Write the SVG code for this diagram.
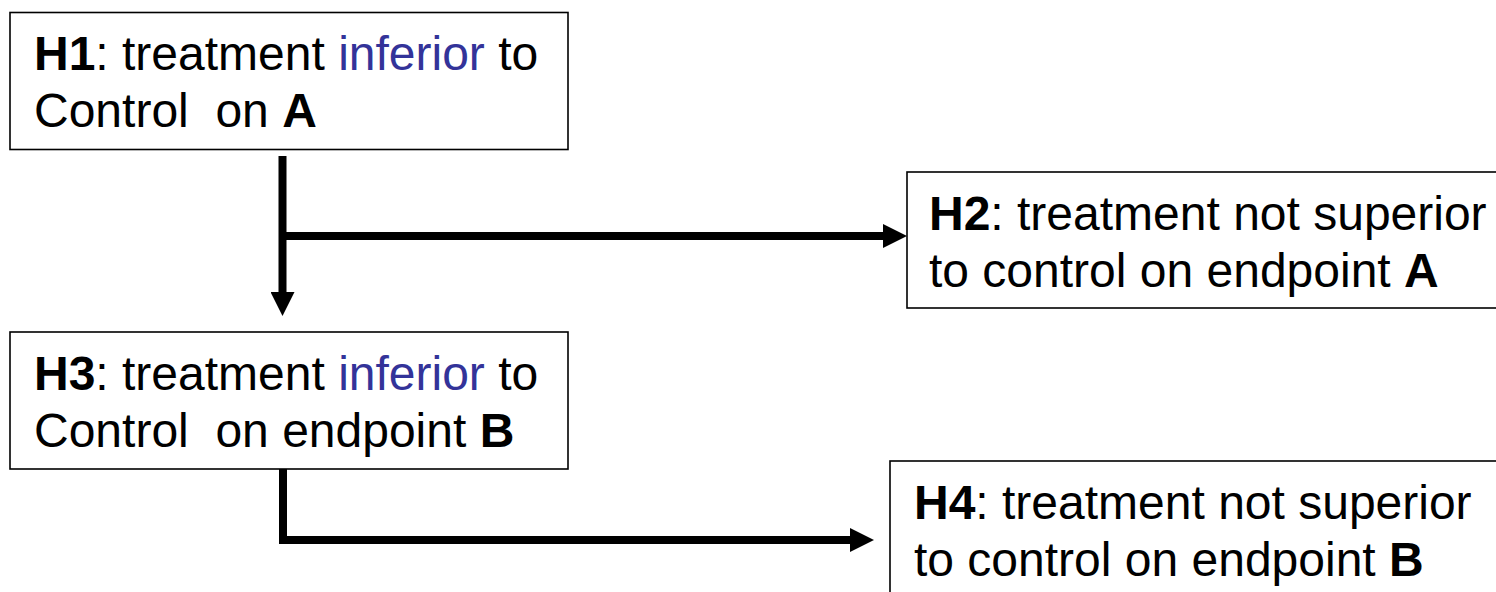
<svg xmlns="http://www.w3.org/2000/svg" width="1496" height="592" viewBox="0 0 1496 592">
<style>
.box{fill:#fff;stroke:#000;stroke-width:1.6}
.t{font-family:"Liberation Sans",Arial,sans-serif;font-size:48px;fill:#000}
.b{font-weight:bold}
.blue{fill:#333399}
.conn{fill:none;stroke:#000;stroke-width:8;stroke-linejoin:miter}
</style>
<defs>
<marker id="ah" markerUnits="userSpaceOnUse" markerWidth="24" markerHeight="24" refX="0" refY="12" orient="auto">
<path d="M0,0 L24,12 L0,24 z" fill="#000"/>
</marker>
</defs>
<rect width="1496" height="592" fill="#fff"/>
<g id="connectors">
<path class="conn" d="M282.5,156 L282.5,292" marker-end="url(#ah)"/>
<path class="conn" d="M282.5,236 L883,236" marker-end="url(#ah)"/>
<path class="conn" d="M283,461 L283,540 L850,540" marker-end="url(#ah)"/>
</g>
<g id="H1">
<rect class="box" x="10" y="12.5" width="558" height="137"/>
<text class="t" x="34" y="70" xml:space="preserve"><tspan class="b">H1</tspan>: treatment <tspan class="blue">inferior</tspan> to</text>
<text class="t" x="34" y="127" xml:space="preserve">Control  on <tspan class="b">A</tspan></text>
</g>
<g id="H2">
<rect class="box" x="907" y="172" width="600" height="136"/>
<text class="t" x="929" y="230" xml:space="preserve"><tspan class="b">H2</tspan>: treatment not superior</text>
<text class="t" x="929" y="287" xml:space="preserve">to control on endpoint <tspan class="b">A</tspan></text>
</g>
<g id="H3">
<rect class="box" x="10" y="332" width="558" height="137"/>
<text class="t" x="34" y="390" xml:space="preserve"><tspan class="b">H3</tspan>: treatment <tspan class="blue">inferior</tspan> to</text>
<text class="t" x="34" y="447" xml:space="preserve">Control  on endpoint <tspan class="b">B</tspan></text>
</g>
<g id="H4">
<rect class="box" x="890" y="461" width="620" height="150"/>
<text class="t" x="914" y="519" xml:space="preserve"><tspan class="b">H4</tspan>: treatment not superior</text>
<text class="t" x="914" y="576" xml:space="preserve">to control on endpoint <tspan class="b">B</tspan></text>
</g>
</svg>
